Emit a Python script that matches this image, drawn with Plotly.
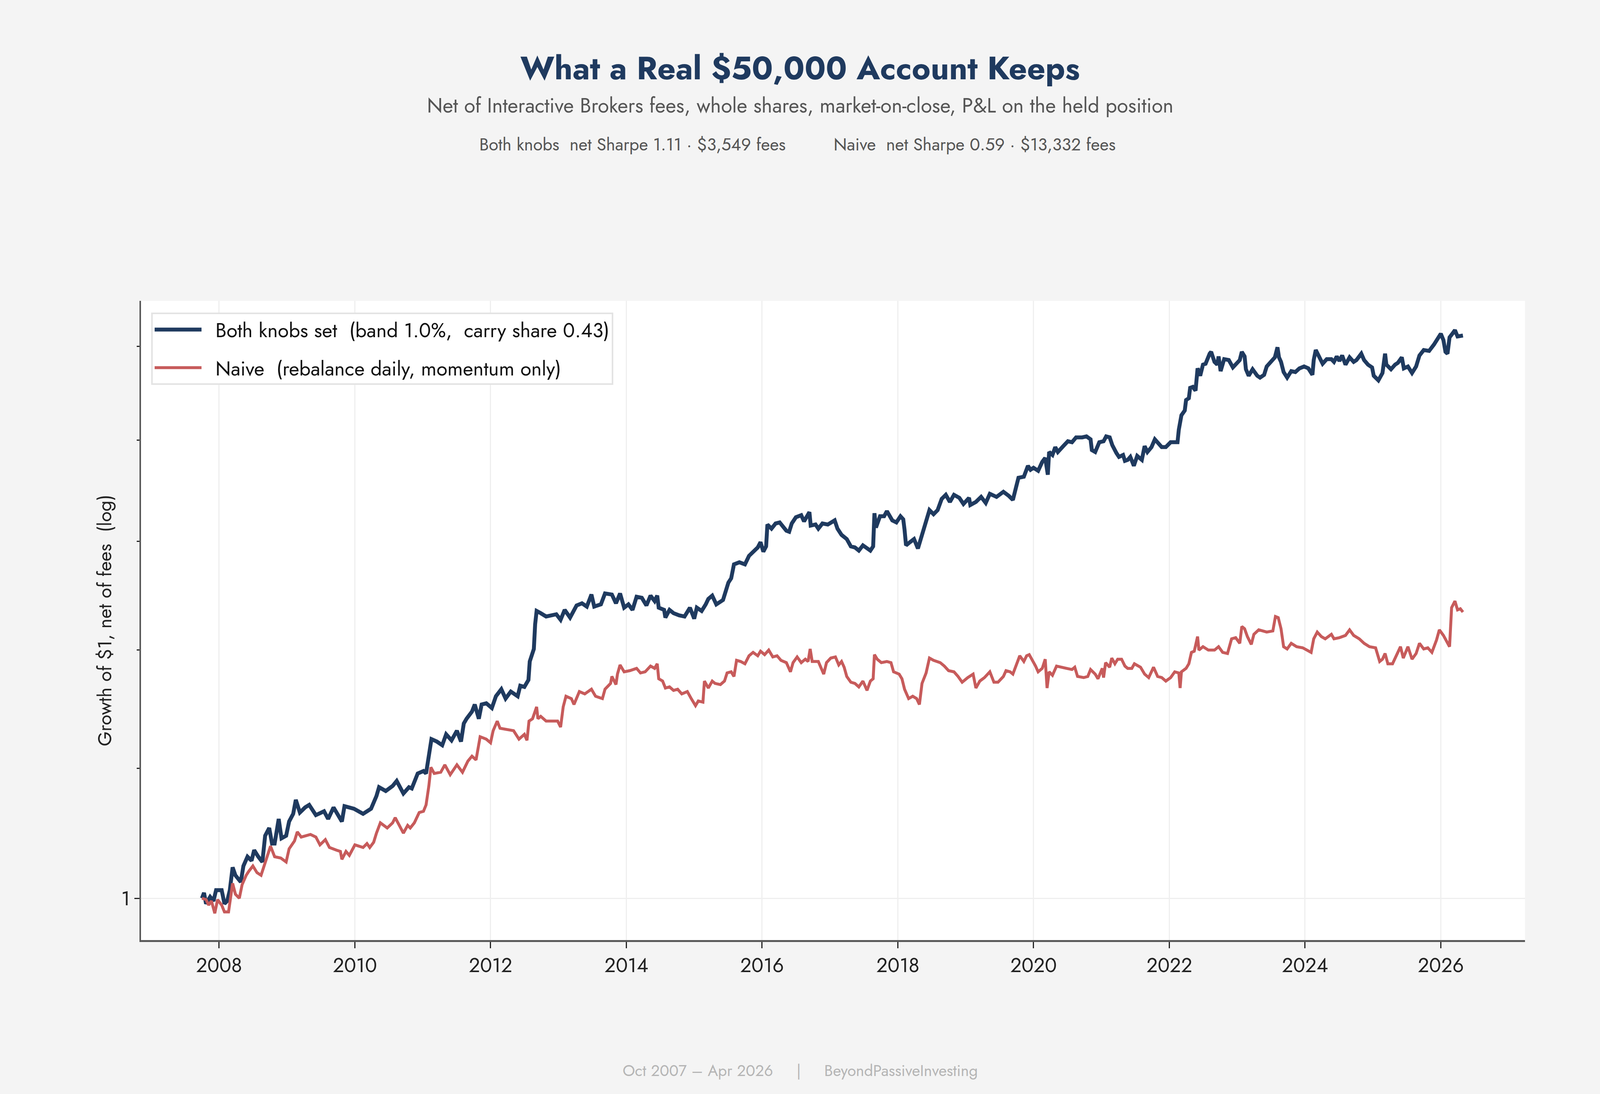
import plotly.graph_objects as go

# Growth of $1 (net of fees)
both_dates = [
    "2007-10-01", "2007-10-12", "2007-10-23", "2007-11-14", "2007-12-02", "2007-12-16",
    "2008-01-01", "2008-01-15", "2008-01-30", "2008-02-14", "2008-02-28", "2008-03-14",
    "2008-03-29", "2008-04-27", "2008-05-11", "2008-06-02", "2008-06-24", "2008-07-08",
    "2008-07-30", "2008-08-21", "2008-09-05", "2008-09-27", "2008-10-12", "2008-10-26",
    "2008-11-17", "2008-12-02", "2008-12-27", "2009-01-12", "2009-02-03", "2009-02-17",
    "2009-03-11", "2009-04-08", "2009-04-30", "2009-06-05", "2009-07-19", "2009-08-10",
    "2009-09-08", "2009-10-01", "2009-10-23", "2009-11-06", "2009-12-27", "2010-02-14",
    "2010-03-29", "2010-04-27", "2010-05-11", "2010-06-16", "2010-07-23", "2010-08-14",
    "2010-09-19", "2010-10-19", "2010-11-03", "2010-12-05", "2011-01-05", "2011-01-19",
    "2011-02-03", "2011-02-17", "2011-03-18", "2011-04-16", "2011-05-07", "2011-06-05",
    "2011-07-04", "2011-07-26", "2011-08-10", "2011-08-25", "2011-09-23", "2011-10-08",
    "2011-10-30", "2011-11-14", "2011-12-09", "2012-01-08", "2012-01-30", "2012-02-28",
    "2012-03-22", "2012-04-19", "2012-05-26", "2012-06-09", "2012-07-01", "2012-07-23",
    "2012-07-30", "2012-08-21", "2012-08-28", "2012-09-05", "2012-09-27", "2012-10-26",
    "2012-12-20", "2013-01-12", "2013-02-03", "2013-03-04", "2013-04-08", "2013-05-07",
    "2013-06-02", "2013-06-27", "2013-07-12", "2013-08-17", "2013-09-08", "2013-10-15",
    "2013-11-06", "2013-11-28", "2013-12-20", "2014-01-12", "2014-02-03", "2014-02-25",
    "2014-03-25", "2014-04-19", "2014-05-11", "2014-06-02", "2014-06-16", "2014-06-24",
    "2014-07-23", "2014-07-30", "2014-08-21", "2014-09-12", "2014-10-12", "2014-11-10",
    "2014-12-09", "2015-01-01", "2015-01-15", "2015-02-10", "2015-03-04", "2015-03-18",
    "2015-04-08", "2015-04-30", "2015-06-05", "2015-06-20", "2015-07-04", "2015-07-19",
    "2015-07-26", "2015-08-03", "2015-09-01", "2015-10-01", "2015-10-23", "2015-11-14",
    "2015-12-09", "2015-12-24", "2016-01-08", "2016-01-23", "2016-01-30", "2016-02-21",
    "2016-03-14", "2016-04-05", "2016-05-11", "2016-05-26", "2016-06-09", "2016-07-01",
    "2016-07-30", "2016-08-14", "2016-09-12", "2016-09-19", "2016-10-15", "2016-10-30",
    "2016-11-21", "2016-12-20", "2017-01-26", "2017-02-10", "2017-03-04", "2017-04-01",
    "2017-04-23", "2017-05-15", "2017-06-05", "2017-06-27", "2017-07-19", "2017-08-06",
    "2017-08-21", "2017-08-28", "2017-09-05", "2017-09-27", "2017-10-19", "2017-11-03",
    "2017-12-02", "2017-12-24", "2018-01-15", "2018-01-30", "2018-02-06", "2018-02-14",
    "2018-03-07", "2018-03-29", "2018-04-19", "2018-05-11", "2018-05-26", "2018-06-20",
    "2018-07-12", "2018-08-03", "2018-08-25", "2018-09-16", "2018-10-08", "2018-10-30",
    "2018-11-28", "2018-12-20", "2019-01-19", "2019-01-26", "2019-02-25", "2019-03-25",
    "2019-04-19", "2019-05-11", "2019-06-16", "2019-07-23", "2019-08-21", "2019-09-12",
    "2019-09-27", "2019-10-12", "2019-11-10", "2019-12-02", "2019-12-16", "2020-01-01",
    "2020-01-26", "2020-02-17", "2020-03-04", "2020-03-18", "2020-03-25", "2020-04-12",
    "2020-04-27", "2020-05-11", "2020-06-09", "2020-07-04", "2020-07-26", "2020-08-17",
    "2020-09-19", "2020-10-12", "2020-11-03", "2020-11-10", "2020-11-28", "2020-12-20",
    "2021-01-12", "2021-01-26", "2021-02-14", "2021-02-28", "2021-03-22", "2021-04-05",
    "2021-04-27", "2021-05-07", "2021-05-22", "2021-06-05", "2021-06-24", "2021-07-12",
    "2021-08-06", "2021-08-21", "2021-09-05", "2021-09-27", "2021-10-15", "2021-10-30",
    "2021-11-21", "2021-12-13", "2022-01-08", "2022-01-30", "2022-02-14", "2022-02-21",
    "2022-02-28", "2022-03-07", "2022-03-25", "2022-04-01", "2022-04-16", "2022-04-23",
    "2022-05-07", "2022-05-22", "2022-06-02", "2022-06-16", "2022-07-01", "2022-07-15",
    "2022-08-06", "2022-08-14", "2022-09-01", "2022-09-16", "2022-09-23", "2022-10-04",
    "2022-10-23", "2022-11-17", "2022-12-09", "2023-01-01", "2023-01-15", "2023-01-26",
    "2023-02-10", "2023-02-17", "2023-03-04", "2023-03-25", "2023-04-19", "2023-05-04",
    "2023-05-26", "2023-06-09", "2023-07-04", "2023-07-23", "2023-08-06", "2023-08-14",
    "2023-08-25", "2023-09-08", "2023-09-27", "2023-10-19", "2023-11-10", "2023-12-02",
    "2023-12-27", "2024-01-19", "2024-02-10", "2024-02-17", "2024-02-28", "2024-03-14",
    "2024-04-05", "2024-04-27", "2024-05-22", "2024-06-05", "2024-06-20", "2024-07-04",
    "2024-07-19", "2024-08-06", "2024-08-28", "2024-09-19", "2024-10-04", "2024-10-30",
    "2024-11-14", "2024-12-05", "2024-12-27", "2025-01-05", "2025-01-30", "2025-02-21",
    "2025-02-28", "2025-03-07", "2025-03-14", "2025-04-08", "2025-04-30", "2025-05-15",
    "2025-06-05", "2025-06-16", "2025-07-08", "2025-07-30", "2025-08-21", "2025-09-08",
    "2025-10-01", "2025-10-30", "2025-11-25", "2025-12-09", "2026-01-01", "2026-01-15",
    "2026-01-26", "2026-02-06", "2026-02-17", "2026-03-04", "2026-03-18", "2026-04-01",
    "2026-04-16", "2026-04-30",
]
both_values = [
    1.000, 1.004, 0.996, 1.001, 0.998, 1.006,
    1.006, 1.006, 0.996, 0.998, 1.006, 1.023,
    1.017, 1.012, 1.024, 1.031, 1.028, 1.036,
    1.031, 1.027, 1.047, 1.053, 1.041, 1.041,
    1.060, 1.045, 1.047, 1.058, 1.064, 1.075,
    1.065, 1.069, 1.071, 1.063, 1.066, 1.060,
    1.069, 1.063, 1.058, 1.070, 1.068, 1.064,
    1.068, 1.078, 1.085, 1.082, 1.086, 1.090,
    1.080, 1.085, 1.084, 1.096, 1.098, 1.096,
    1.110, 1.124, 1.122, 1.119, 1.128, 1.123,
    1.131, 1.122, 1.137, 1.141, 1.147, 1.153,
    1.141, 1.153, 1.154, 1.150, 1.160, 1.166,
    1.158, 1.164, 1.160, 1.169, 1.168, 1.174,
    1.190, 1.201, 1.223, 1.235, 1.233, 1.230,
    1.232, 1.227, 1.236, 1.229, 1.240, 1.242,
    1.239, 1.250, 1.239, 1.241, 1.251, 1.250,
    1.242, 1.251, 1.238, 1.241, 1.236, 1.248,
    1.247, 1.240, 1.249, 1.244, 1.249, 1.238,
    1.236, 1.229, 1.236, 1.233, 1.231, 1.230,
    1.238, 1.228, 1.238, 1.235, 1.241, 1.246,
    1.249, 1.241, 1.245, 1.253, 1.261, 1.265,
    1.271, 1.278, 1.280, 1.278, 1.286, 1.290,
    1.294, 1.299, 1.290, 1.295, 1.316, 1.312,
    1.317, 1.318, 1.310, 1.309, 1.317, 1.323,
    1.325, 1.319, 1.328, 1.315, 1.316, 1.312,
    1.317, 1.316, 1.320, 1.312, 1.306, 1.302,
    1.295, 1.294, 1.291, 1.296, 1.293, 1.291,
    1.295, 1.327, 1.313, 1.324, 1.324, 1.329,
    1.320, 1.318, 1.324, 1.321, 1.311, 1.296,
    1.299, 1.302, 1.293, 1.306, 1.317, 1.330,
    1.326, 1.330, 1.341, 1.345, 1.338, 1.345,
    1.342, 1.336, 1.342, 1.335, 1.338, 1.343,
    1.337, 1.346, 1.343, 1.348, 1.344, 1.340,
    1.351, 1.362, 1.363, 1.374, 1.370, 1.372,
    1.369, 1.378, 1.382, 1.365, 1.388, 1.385,
    1.393, 1.388, 1.394, 1.399, 1.398, 1.403,
    1.403, 1.404, 1.401, 1.390, 1.388, 1.398,
    1.399, 1.404, 1.403, 1.395, 1.387, 1.383,
    1.385, 1.379, 1.380, 1.383, 1.374, 1.384,
    1.380, 1.394, 1.388, 1.393, 1.401, 1.398,
    1.393, 1.393, 1.398, 1.398, 1.398, 1.411,
    1.418, 1.426, 1.431, 1.442, 1.444, 1.455,
    1.456, 1.452, 1.476, 1.468, 1.480, 1.481,
    1.492, 1.494, 1.483, 1.480, 1.489, 1.473,
    1.486, 1.485, 1.477, 1.483, 1.485, 1.494,
    1.489, 1.475, 1.468, 1.475, 1.468, 1.466,
    1.469, 1.478, 1.483, 1.488, 1.499, 1.488,
    1.483, 1.472, 1.466, 1.473, 1.472, 1.476,
    1.478, 1.476, 1.469, 1.485, 1.496, 1.489,
    1.481, 1.486, 1.486, 1.483, 1.489, 1.484,
    1.490, 1.480, 1.488, 1.483, 1.485, 1.492,
    1.485, 1.480, 1.477, 1.468, 1.463, 1.471,
    1.486, 1.492, 1.480, 1.475, 1.480, 1.482,
    1.488, 1.476, 1.478, 1.471, 1.478, 1.490,
    1.496, 1.495, 1.502, 1.506, 1.514, 1.507,
    1.494, 1.492, 1.510, 1.514, 1.518, 1.511,
    1.512, 1.512,
]

naive_dates = [
    "2007-10-01", "2007-10-23", "2007-11-06", "2007-11-21", "2007-12-09", "2007-12-24",
    "2008-01-15", "2008-01-30", "2008-02-21", "2008-03-04", "2008-03-14", "2008-03-29",
    "2008-04-19", "2008-05-04", "2008-05-26", "2008-06-09", "2008-07-01", "2008-07-23",
    "2008-08-14", "2008-08-28", "2008-09-12", "2008-10-04", "2008-10-26", "2008-11-28",
    "2008-12-27", "2009-01-12", "2009-02-10", "2009-02-25", "2009-03-18", "2009-05-07",
    "2009-06-05", "2009-06-27", "2009-07-26", "2009-08-17", "2009-09-23", "2009-10-15",
    "2009-10-23", "2009-11-14", "2009-12-02", "2010-01-01", "2010-02-14", "2010-03-07",
    "2010-03-22", "2010-04-12", "2010-04-27", "2010-05-18", "2010-06-24", "2010-07-23",
    "2010-08-06", "2010-08-28", "2010-09-19", "2010-10-12", "2010-10-26", "2010-11-17",
    "2010-12-13", "2011-01-05", "2011-01-19", "2011-02-03", "2011-02-14", "2011-03-04",
    "2011-04-08", "2011-04-30", "2011-05-29", "2011-07-04", "2011-08-03", "2011-09-01",
    "2011-09-23", "2011-10-15", "2011-11-06", "2011-12-09", "2012-01-01", "2012-01-15",
    "2012-02-06", "2012-02-21", "2012-03-29", "2012-05-04", "2012-06-02", "2012-07-01",
    "2012-07-15", "2012-07-26", "2012-08-14", "2012-09-05", "2012-09-12", "2012-09-27",
    "2012-10-26", "2012-12-27", "2013-01-12", "2013-01-26", "2013-02-10", "2013-03-11",
    "2013-03-25", "2013-04-23", "2013-05-22", "2013-06-27", "2013-07-19", "2013-08-25",
    "2013-09-08", "2013-10-08", "2013-10-15", "2013-11-06", "2013-11-14", "2013-11-28",
    "2013-12-20", "2014-01-19", "2014-02-25", "2014-03-18", "2014-04-12", "2014-05-11",
    "2014-06-02", "2014-06-16", "2014-06-24", "2014-07-15", "2014-07-30", "2014-08-21",
    "2014-09-12", "2014-10-04", "2014-10-26", "2014-11-25", "2014-12-16", "2015-01-08",
    "2015-01-23", "2015-02-17", "2015-02-25", "2015-03-18", "2015-04-08", "2015-04-23",
    "2015-05-22", "2015-06-13", "2015-06-27", "2015-07-19", "2015-08-03", "2015-08-17",
    "2015-09-08", "2015-10-01", "2015-10-23", "2015-11-14", "2015-12-09", "2015-12-24",
    "2016-01-15", "2016-02-06", "2016-02-28", "2016-03-22", "2016-04-12", "2016-05-11",
    "2016-06-02", "2016-06-16", "2016-07-08", "2016-07-30", "2016-08-21", "2016-09-05",
    "2016-09-16", "2016-09-27", "2016-10-30", "2016-11-14", "2016-11-28", "2016-12-13",
    "2017-01-05", "2017-01-30", "2017-02-17", "2017-03-04", "2017-03-18", "2017-04-01",
    "2017-04-23", "2017-05-15", "2017-06-05", "2017-06-27", "2017-07-19", "2017-08-06",
    "2017-08-21", "2017-08-28", "2017-09-12", "2017-10-04", "2017-11-03", "2017-11-25",
    "2017-12-09", "2018-01-08", "2018-01-23", "2018-02-06", "2018-02-28", "2018-03-22",
    "2018-04-12", "2018-04-27", "2018-05-11", "2018-06-02", "2018-06-20", "2018-07-12",
    "2018-08-17", "2018-09-08", "2018-10-01", "2018-10-30", "2018-11-21", "2018-12-13",
    "2019-01-12", "2019-02-10", "2019-02-25", "2019-03-18", "2019-04-12", "2019-05-11",
    "2019-06-02", "2019-06-24", "2019-07-23", "2019-08-06", "2019-08-28", "2019-09-12",
    "2019-10-04", "2019-10-19", "2019-11-10", "2019-11-25", "2019-12-09", "2019-12-24",
    "2020-01-12", "2020-01-26", "2020-02-17", "2020-03-04", "2020-03-14", "2020-03-25",
    "2020-04-12", "2020-05-04", "2020-05-26", "2020-06-27", "2020-07-26", "2020-08-10",
    "2020-08-25", "2020-09-27", "2020-10-19", "2020-11-03", "2020-11-28", "2020-12-13",
    "2021-01-05", "2021-01-12", "2021-01-23", "2021-02-14", "2021-02-25", "2021-03-14",
    "2021-03-29", "2021-04-19", "2021-05-07", "2021-05-22", "2021-06-13", "2021-06-27",
    "2021-07-30", "2021-08-21", "2021-09-12", "2021-10-08", "2021-10-30", "2021-11-21",
    "2021-12-13", "2022-01-08", "2022-01-30", "2022-02-21", "2022-02-28", "2022-03-07",
    "2022-04-01", "2022-04-16", "2022-04-30", "2022-05-15", "2022-06-02", "2022-06-09",
    "2022-07-01", "2022-07-30", "2022-09-01", "2022-09-23", "2022-10-15", "2022-11-10",
    "2022-12-02", "2022-12-24", "2023-01-15", "2023-01-26", "2023-02-10", "2023-02-25",
    "2023-03-18", "2023-04-01", "2023-04-27", "2023-05-18", "2023-06-09", "2023-07-12",
    "2023-07-26", "2023-08-10", "2023-08-25", "2023-09-08", "2023-09-27", "2023-10-19",
    "2023-11-17", "2023-12-20", "2024-01-12", "2024-02-03", "2024-02-17", "2024-03-07",
    "2024-03-29", "2024-04-19", "2024-05-22", "2024-06-05", "2024-07-04", "2024-08-06",
    "2024-08-28", "2024-09-19", "2024-10-19", "2024-11-14", "2024-12-13", "2025-01-15",
    "2025-02-06", "2025-02-21", "2025-03-07", "2025-03-22", "2025-04-16", "2025-04-30",
    "2025-05-15", "2025-05-29", "2025-06-13", "2025-07-08", "2025-07-30", "2025-08-21",
    "2025-09-08", "2025-10-01", "2025-10-23", "2025-11-14", "2025-12-09", "2025-12-24",
    "2026-01-15", "2026-01-30", "2026-02-17", "2026-02-28", "2026-03-18", "2026-04-01",
    "2026-04-16", "2026-04-30",
]
naive_values = [
    1.000, 0.999, 0.995, 0.998, 0.989, 0.999,
    0.995, 0.990, 0.990, 1.002, 1.011, 1.003,
    1.000, 1.010, 1.017, 1.020, 1.024, 1.019,
    1.017, 1.023, 1.030, 1.039, 1.031, 1.030,
    1.027, 1.037, 1.043, 1.050, 1.046, 1.048,
    1.046, 1.040, 1.044, 1.038, 1.036, 1.035,
    1.029, 1.035, 1.032, 1.040, 1.038, 1.041,
    1.038, 1.042, 1.049, 1.057, 1.053, 1.057,
    1.061, 1.055, 1.049, 1.055, 1.053, 1.057,
    1.065, 1.066, 1.071, 1.086, 1.101, 1.096,
    1.097, 1.103, 1.095, 1.103, 1.097, 1.106,
    1.110, 1.107, 1.126, 1.124, 1.121, 1.131,
    1.139, 1.133, 1.132, 1.131, 1.124, 1.128,
    1.123, 1.139, 1.141, 1.151, 1.141, 1.143,
    1.139, 1.139, 1.134, 1.151, 1.160, 1.158,
    1.153, 1.164, 1.162, 1.166, 1.160, 1.158,
    1.166, 1.171, 1.177, 1.170, 1.179, 1.187,
    1.181, 1.182, 1.184, 1.180, 1.181, 1.186,
    1.184, 1.188, 1.175, 1.173, 1.167, 1.168,
    1.165, 1.166, 1.162, 1.164, 1.158, 1.152,
    1.156, 1.155, 1.173, 1.167, 1.173, 1.171,
    1.170, 1.173, 1.180, 1.181, 1.177, 1.191,
    1.190, 1.188, 1.195, 1.198, 1.195, 1.199,
    1.196, 1.200, 1.194, 1.195, 1.191, 1.189,
    1.181, 1.189, 1.194, 1.189, 1.192, 1.190,
    1.201, 1.190, 1.190, 1.184, 1.179, 1.189,
    1.193, 1.194, 1.187, 1.190, 1.185, 1.177,
    1.172, 1.171, 1.168, 1.173, 1.165, 1.173,
    1.175, 1.196, 1.192, 1.189, 1.190, 1.189,
    1.181, 1.179, 1.175, 1.166, 1.158, 1.160,
    1.158, 1.153, 1.171, 1.180, 1.193, 1.191,
    1.189, 1.186, 1.182, 1.181, 1.177, 1.172,
    1.176, 1.179, 1.167, 1.173, 1.176, 1.181,
    1.172, 1.172, 1.177, 1.182, 1.181, 1.179,
    1.189, 1.195, 1.190, 1.195, 1.196, 1.192,
    1.186, 1.181, 1.184, 1.192, 1.167, 1.181,
    1.178, 1.186, 1.185, 1.184, 1.183, 1.185,
    1.177, 1.176, 1.177, 1.183, 1.179, 1.175,
    1.184, 1.176, 1.189, 1.185, 1.193, 1.188,
    1.192, 1.192, 1.186, 1.184, 1.184, 1.188,
    1.185, 1.179, 1.176, 1.185, 1.177, 1.176,
    1.173, 1.176, 1.181, 1.180, 1.167, 1.181,
    1.184, 1.188, 1.198, 1.199, 1.212, 1.200,
    1.203, 1.200, 1.200, 1.203, 1.198, 1.197,
    1.210, 1.211, 1.206, 1.221, 1.219, 1.212,
    1.205, 1.214, 1.218, 1.217, 1.216, 1.217,
    1.230, 1.229, 1.219, 1.203, 1.201, 1.206,
    1.203, 1.202, 1.200, 1.198, 1.210, 1.216,
    1.212, 1.210, 1.214, 1.210, 1.211, 1.213,
    1.218, 1.213, 1.210, 1.206, 1.203, 1.202,
    1.190, 1.192, 1.197, 1.188, 1.188, 1.193,
    1.199, 1.203, 1.193, 1.203, 1.192, 1.197,
    1.206, 1.201, 1.202, 1.198, 1.209, 1.218,
    1.213, 1.209, 1.203, 1.238, 1.244, 1.236,
    1.237, 1.234,
]

NB = "\u00a0"
series_names = [
    NB * 2 + "Both knobs set" + NB * 2 + "(band 1.0%," + NB * 2 + "carry share 0.43)",
    NB * 2 + "Naive" + NB * 2 + "(rebalance daily, momentum only)",
]
series_colors = ["#1f3a5f", "#c75b5b"]

y_tick_vals = [1]
y_tick_text = ["1"]
y_minor_vals = [1.1, 1.2, 1.3, 1.4, 1.5]

title_text = "<b>What a Real $50,000 Account Keeps</b>"
subtitle_text = "Net of Interactive Brokers fees, whole shares, market-on-close, P&L on the held position"
stats_left = "Both knobs" + NB * 2 + "net Sharpe 1.11 · $3,549 fees"
stats_right = "Naive" + NB * 2 + "net Sharpe 0.59 · $13,332 fees"
footer_text = "Oct 2007 – Apr 2026" + NB * 5 + "|" + NB * 5 + "BeyondPassiveInvesting"

FONT = "Jost, Futura, 'Century Gothic', Lato, sans-serif"

fig = go.Figure()
fig.add_trace(go.Scatter(
    x=both_dates, y=both_values, mode="lines", name=series_names[0],
    legendgroup="a",
    line=dict(color=series_colors[0], width=10),
))
fig.add_trace(go.Scatter(
    x=naive_dates, y=naive_values, mode="lines", name=series_names[1],
    legendgroup="b",
    line=dict(color=series_colors[1], width=7.5),
))

fig.update_layout(
    autosize=True,
    paper_bgcolor="#f4f4f4",
    plot_bgcolor="#ffffff",
    font=dict(family=FONT, size=51, color="#222222"),
    margin=dict(l=361, r=192, t=770, b=394),
    showlegend=True,
    legend=dict(
        x=0.0073, y=0.9817, xanchor="left", yanchor="top",
        bgcolor="#ffffff", bordercolor="#e3e3e3", borderwidth=4,
        font=dict(size=51, color="#111111"),
        itemwidth=120, tracegroupgap=28,
    ),
    xaxis=dict(
        type="date",
        range=["2006-11-07", "2027-03-30"],
        tick0="2008-01-01", dtick="M24", tickformat="%Y",
        showgrid=True, gridcolor="#efefef", gridwidth=2.5,
        zeroline=False,
        showline=True, linecolor="#5a5a5a", linewidth=5,
        ticks="outside", ticklen=16, tickwidth=2.5, tickcolor="#222222",
        tickfont=dict(size=51, color="#222222"),
    ),
    yaxis=dict(
        type="log",
        range=[-0.01334, 0.19062],
        tickmode="array", tickvals=y_tick_vals, ticktext=y_tick_text,
        showgrid=True, gridcolor="#efefef", gridwidth=3,
        zeroline=False,
        showline=True, linecolor="#5a5a5a", linewidth=4,
        ticks="outside", ticklen=13.5, tickwidth=3, tickcolor="#222222",
        tickfont=dict(size=51, color="#222222"),
        minor=dict(tickmode="array", tickvals=y_minor_vals, ticks="outside",
                   ticklen=7, tickwidth=3, tickcolor="#222222", showgrid=False),
        title=dict(text="Growth of $1, net of fees" + NB * 2 + "(log)",
                   font=dict(size=49, color="#222222"), standoff=10),
    ),
    annotations=[
        dict(text=title_text, x=0.4762, y=1.3637, xref="paper", yref="paper",
             xanchor="center", yanchor="middle", showarrow=False,
             font=dict(size=82, color="#1f3a5f", family=FONT)),
        dict(text=subtitle_text, x=0.4762, y=1.3056, xref="paper", yref="paper",
             xanchor="center", yanchor="middle", showarrow=False,
             font=dict(size=52, color="#555555", family=FONT)),
        dict(text=stats_left, x=0.4662, y=1.2445, xref="paper", yref="paper",
             xanchor="right", yanchor="middle", showarrow=False,
             font=dict(size=44, color="#555555", family=FONT)),
        dict(text=stats_right, x=0.4998, y=1.2445, xref="paper", yref="paper",
             xanchor="left", yanchor="middle", showarrow=False,
             font=dict(size=44, color="#555555", family=FONT)),
        dict(text=footer_text, x=0.4762, y=-0.2042, xref="paper", yref="paper",
             xanchor="center", yanchor="middle", showarrow=False,
             font=dict(size=40, color="#b5b5b5", family=FONT)),
    ],
)

# fill the browser window, no white body margin
post = (
    "document.documentElement.style.margin='0';"
    "document.body.style.margin='0';"
    "document.body.style.overflow='hidden';"
    "document.body.style.background='#f4f4f4';"
    "var gd=document.getElementById('{plot_id}');"
    "gd.style.width='100vw';gd.style.height='100vh';"
    "Plotly.Plots.resize(gd);"
)
fig.write_html("out.html", config={"responsive": True, "displayModeBar": False},
               default_width="100vw", default_height="100vh", post_script=post)
